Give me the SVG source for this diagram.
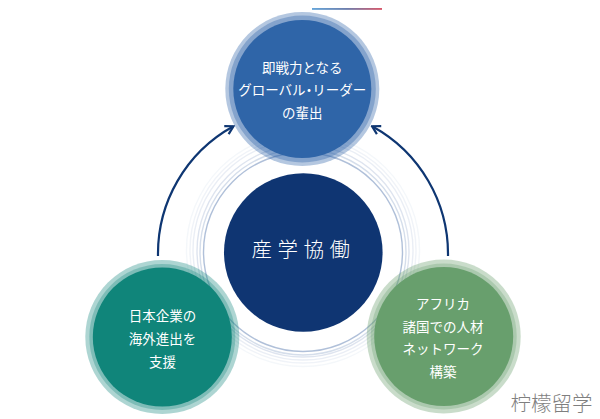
<svg xmlns="http://www.w3.org/2000/svg" width="600" height="419" viewBox="0 0 600 419">
<style>
text{font-family:"Noto Sans CJK JP","Noto Sans",sans-serif;text-anchor:middle;fill:#fff}
.n{font-size:13.5px}
.p{font-feature-settings:"palt"}
.ring{fill:none;stroke:#2f5a9c}
.arc{fill:none;stroke:#0e3672;stroke-width:2.2}
</style>
<defs>
<linearGradient id="bar" x1="0" x2="1" y1="0" y2="0"><stop offset="0" stop-color="#3f8fd0"/><stop offset="0.5" stop-color="#4a5f98"/><stop offset="1" stop-color="#cf2e45"/></linearGradient>
<marker id="ah" viewBox="0 0 12 12" refX="10" refY="6" markerWidth="12" markerHeight="12" markerUnits="userSpaceOnUse" orient="auto"><path d="M2.500 1.500 L10.500 6 L2.500 10.500" fill="none" stroke="#0e3672" stroke-width="2.200"/></marker>
</defs>
<rect width="600" height="419" fill="#fff"/>
<rect x="312" y="8.200" width="70" height="1.500" fill="url(#bar)"/>
<g id="rings">
<circle class="ring" cx="303" cy="252" r="99.500" stroke-width="1.400" stroke-opacity="0.38"/>
<circle class="ring" cx="303" cy="252" r="103" stroke-width="1.400" stroke-opacity="0.2"/>
<circle class="ring" cx="303" cy="251" r="106" stroke-width="1.400" stroke-opacity="0.16"/>
<circle class="ring" cx="303" cy="250" r="110" stroke-width="1.400" stroke-opacity="0.1"/>
<circle class="ring" cx="303" cy="250" r="113" stroke-width="1.400" stroke-opacity="0.07"/>
<circle class="ring" cx="303" cy="250" r="116.500" stroke-width="1.400" stroke-opacity="0.05"/>
</g>
<g id="connectors">
<path class="arc" d="M158 256 A145.500 145.500 0 0 1 233 126.500" marker-end="url(#ah)"/>
<path class="arc" d="M448 256 A145.500 145.500 0 0 0 372.500 126.500" marker-end="url(#ah)"/>
</g>
<g id="center">
<circle cx="303.300" cy="252.500" r="79.300" fill="#0f3572"/>
<text x="303.500" y="257" font-size="20.500" font-weight="300" letter-spacing="5.500">産学協働</text>
</g>
<g id="top">
<circle cx="302.300" cy="89" r="77" fill="#2f65a8" fill-opacity="0.36"/>
<circle cx="302.300" cy="89" r="73.500" fill="#2f65a8" fill-opacity="0.36"/>
<circle cx="302.300" cy="89" r="69" fill="#2f65a8"/>
<text class="n" x="302.300" y="72.500">即戦力となる</text>
<text class="n" x="302.300" y="95">グローバル<tspan class="p">・</tspan>リーダー</text>
<text class="n" x="302.300" y="118">の輩出</text>
</g>
<g id="left">
<circle cx="162.300" cy="337" r="77" fill="#10857a" fill-opacity="0.34"/>
<circle cx="162.300" cy="337" r="73" fill="#10857a" fill-opacity="0.3"/>
<circle cx="162.300" cy="337" r="69.500" fill="#10857a"/>
<text class="n" x="162.500" y="321">日本企業の</text>
<text class="n" x="162.500" y="344">海外進出を</text>
<text class="n" x="162.500" y="367">支援</text>
</g>
<g id="right">
<circle cx="443.700" cy="336.500" r="77" fill="#689f6d" fill-opacity="0.36"/>
<circle cx="443.700" cy="336.500" r="73" fill="#689f6d" fill-opacity="0.3"/>
<circle cx="443.700" cy="336.500" r="69.500" fill="#689f6d"/>
<text class="n" x="443" y="309">アフリカ</text>
<text class="n" x="443" y="332">諸国での人材</text>
<text class="n" x="443" y="353.500">ネットワーク</text>
<text class="n" x="443" y="376.500">構築</text>
</g>
<text x="551.500" y="411" font-size="20.500" font-weight="300" style="fill:#7f7f7f;font-family:'Noto Sans CJK SC',sans-serif">柠檬留学</text>
</svg>
